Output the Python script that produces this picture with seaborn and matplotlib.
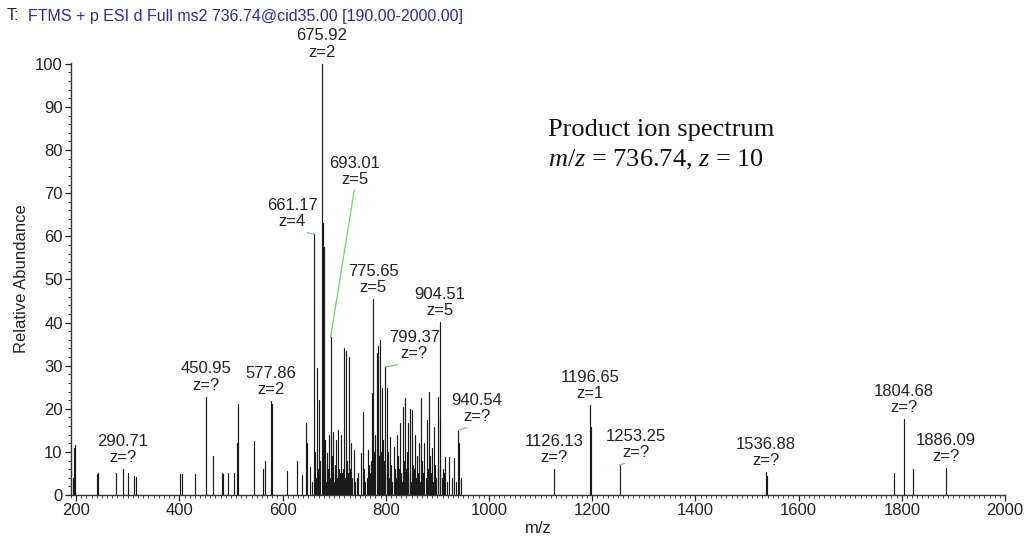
import numpy as np
import pandas as pd
import matplotlib
matplotlib.use("Agg")
import matplotlib.pyplot as plt
from matplotlib.ticker import MultipleLocator
import seaborn as sns

# ---------------- data ----------------
peak_mz = [193, 195.5, 197.5, 240, 242, 278, 290.71, 301, 312, 316,
           402, 406, 430, 450.95, 465, 483, 485, 494, 506, 512, 514, 545, 563, 566, 577.86, 579,
           608, 627, 638, 645.5, 647, 653, 657,
           661.17, 663, 665, 667.6, 669, 671, 673, 675.92, 677.5, 679.5, 681, 682.5, 684, 685.7, 687, 688,
           690, 692, 693.01, 695, 697, 698, 700, 701, 703, 704, 706, 708, 710, 712, 713, 715, 716, 718,
           719, 721, 722.5, 725, 727, 728.4, 730, 731, 733, 735, 738.7, 741, 744, 747, 751.6, 755.5, 758,
           760, 763, 765, 767, 770, 771.5, 773, 775.65, 777, 778, 780, 782.6, 784, 785.8, 787, 789, 791,
           792.5, 794, 795.5, 797, 798, 799.37, 802, 804, 805, 807, 808, 810, 811, 813, 815, 817, 818,
           820, 821, 824, 826, 828, 830, 832, 833, 835, 837.5, 839, 841, 843, 844, 846, 847, 849, 850,
           853, 855, 857, 859, 861, 863, 864, 866, 868, 871, 873, 875, 877, 879.5, 881, 883, 885, 886,
           888, 889, 891, 892.5, 895, 896, 898, 900.8, 902, 904.51, 906, 908, 910, 912, 915, 919, 923,
           928, 932, 936, 940.54, 942, 945,
           1126.13, 1196.65, 1197.6, 1253.25, 1536.88, 1538.5, 1784, 1804.68, 1822, 1886.09]
peak_abund = [4, 11, 11.5, 4.8, 5, 5, 6, 5.2, 4.5, 4.2,
              4.8, 4.8, 4.8, 22.8, 9, 5, 4.8, 5, 5, 12, 21, 12.5, 6, 8, 21.8, 21,
              5.5, 8, 4.6, 16.6, 12, 6.5, 3,
              60.5, 10, 4, 29.4, 6, 22, 8, 100, 63, 57.5, 5, 12.7, 3, 9.7, 7, 6,
              14, 4, 36.6, 9, 5, 14.7, 3, 7, 6, 12.7, 4, 15, 6, 5, 14, 3, 5, 6,
              34, 4, 33.5, 8, 5, 32, 3, 6, 12, 4, 10.4, 3, 4, 5, 9.7, 19.3, 6,
              3, 4, 10.4, 7, 5, 8, 23.6, 45.4, 6, 10, 14, 33, 7, 34.5, 9, 36, 10,
              24.8, 6, 12.7, 8, 5, 29.7, 24.8, 6, 10, 4, 13.5, 5, 7, 3, 11.2, 5, 6,
              4, 14, 9, 6, 16.6, 5, 3, 20.4, 8, 22.4, 6, 10, 4, 16.6, 5, 20, 3, 19.7,
              7, 6, 14, 4, 9, 5, 12, 3, 22.4, 8, 5, 12, 4, 17.4, 6, 24, 4, 9,
              5, 11, 3, 15.8, 5, 7, 4, 22.8, 6, 40.1, 18, 4, 6, 5, 8.9, 3, 8.9,
              4, 8.6, 3, 15, 12, 4,
              6, 20.8, 15.7, 7, 5.3, 4.5, 5, 17.6, 6, 6.2]

label_mz = [290.71, 450.95, 577.86, 661.17, 675.92, 693.01, 775.65, 799.37,
            904.51, 940.54, 1126.13, 1196.65, 1253.25, 1536.88, 1804.68, 1886.09]
label_z = ["?", "?", "2", "4", "2", "5", "5", "?", "5", "?", "?", "1", "?", "?", "?", "?"]

title_prefix = "T:"
title_text = "FTMS + p ESI d Full ms2 736.74@cid35.00 [190.00-2000.00]"
note_line1 = "Product ion spectrum"
note_line2 = r"$\it{m/z}$ = 736.74, $\it{z}$ = 10"

# label text anchors (layout) for labels displaced with leader lines
leader_pos = {661.17: (618.5, 61.6), 693.01: (740.0, 71.5), 799.37: (855.0, 31.0),
              940.54: (977.0, 16.4), 1253.25: (1285.0, 8.1)}

# ---------------- style ----------------
sns.set_style("ticks")
plt.rcParams["font.family"] = ["Liberation Sans", "DejaVu Sans"]
plt.rcParams["mathtext.fontset"] = "custom"
plt.rcParams["mathtext.rm"] = "Liberation Serif"
plt.rcParams["mathtext.it"] = "Liberation Serif:italic"

fig = plt.figure(figsize=(10.27, 5.44), dpi=100)
ax = fig.add_axes([71 / 1027, 49 / 544, (1005 - 71) / 1027, (495 - 63) / 544])

# build stick spectrum as long-form data (one 2-point line per peak)
rows = []
for i, (m, a) in enumerate(zip(peak_mz, peak_abund)):
    rows.append((i, m, 0.0))
    rows.append((i, m, a))
df = pd.DataFrame(rows, columns=["peak", "mz", "abund"])
sns.lineplot(data=df, x="mz", y="abund", units="peak", estimator=None, sort=False,
             color="#1a1a1a", linewidth=0.85, ax=ax, legend=False)

ax.set_xlim(190, 2000)
ax.set_ylim(0, 100.2)
ax.xaxis.set_major_locator(MultipleLocator(200))
ax.xaxis.set_minor_locator(MultipleLocator(10))
ax.yaxis.set_major_locator(MultipleLocator(10))
ax.yaxis.set_minor_locator(MultipleLocator(2))
ax.tick_params(which="major", length=4, width=0.9, labelsize=12, colors="#222222", pad=2)
ax.tick_params(which="minor", length=2, width=0.7, colors="#444444")
for s in ["left", "bottom"]:
    ax.spines[s].set_color("#333333")
    ax.spines[s].set_linewidth(1.0)
sns.despine(ax=ax)
ax.set_xlabel("m/z", fontsize=12, color="#222222", labelpad=2)
ax.set_ylabel("Relative Abundance", fontsize=12, color="#222222", labelpad=4)

# peak labels
lookup = dict(zip(peak_mz, peak_abund))
green = "#77cc77"
for m, z in zip(label_mz, label_z):
    h = lookup[m]
    txt = f"{m:.2f}\nz={z}"
    if m in leader_pos:
        ax.annotate(txt, xy=(m, h), xytext=leader_pos[m], ha="center", va="bottom",
                    fontsize=12, color="#222222", linespacing=1.1,
                    arrowprops=dict(arrowstyle="-", color=green, lw=0.9,
                                    relpos=(0.5, 0.0), shrinkA=0, shrinkB=0))
    else:
        ax.annotate(txt, xy=(m, h), xytext=(0, 3), textcoords="offset points",
                    ha="center", va="bottom", fontsize=12, color="#222222", linespacing=1.1)

# header
fig.text(7 / 1027, 1 - 16 / 544, title_prefix, fontsize=11.5, color="#222222", va="center")
fig.text(28 / 1027, 1 - 16 / 544, title_text, fontsize=11.5, color="#2a2aa8", va="center")

# note
fig.text(548 / 1027, 1 - 130 / 544, note_line1, fontsize=19, family="Liberation Serif",
         color="#111111", va="center")
fig.text(548 / 1027, 1 - 160 / 544, note_line2, fontsize=19, family="Liberation Serif",
         color="#111111", va="center")

fig.savefig("out.png", dpi=100)
